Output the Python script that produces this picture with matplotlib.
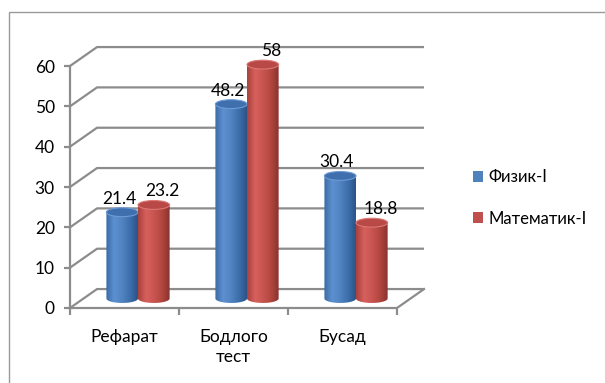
import numpy as np
import matplotlib.pyplot as plt
from matplotlib.patches import Ellipse, Rectangle, Patch, PathPatch
from matplotlib.path import Path
from matplotlib.colors import LinearSegmentedColormap

categories = ["Рефарат", "Бодлого\nтест", "Бусад"]
series_names = ["Физик-I", "Математик-I"]
physics = [21.4, 48.2, 30.4]
math = [23.2, 58, 18.8]
y_ticks = [0, 10, 20, 30, 40, 50, 60]

plt.rcParams["font.family"] = ["Lato", "Noto Sans", "DejaVu Sans"]
FS = 12.5

W, H = 605, 383
PX_X, PX_Y = 109.0, 4.033          # pixels per category / per unit
X0, Y0 = 70, 308                   # front origin in pixels
XMAX, YMAX = 3.4, 75

fig = plt.figure(figsize=(W / 100, H / 100), dpi=100)
ax = fig.add_axes([X0 / W, 1 - Y0 / H, XMAX * PX_X / W, YMAX * PX_Y / H])
ax.set_xlim(0, XMAX)
ax.set_ylim(0, YMAX)
ax.patch.set_alpha(0)

grid_c = "#8c8c8c"
dx, dy = 0.248, 4.7                # depth offset of back wall
n = len(categories)

# outer chart frame (cropped)
fig.patches.append(Rectangle((9 / W, -0.1), 1.2, 1 - 12 / H + 0.1, transform=fig.transFigure,
                             fill=False, edgecolor="#9a9a9a", linewidth=1.0))

# back wall gridlines + side wall diagonals
for v in y_ticks:
    ax.plot([0, dx, n + dx], [v, v + dy, v + dy], color=grid_c, lw=1.6, zorder=1,
            solid_capstyle="butt")
# floor right edge
ax.plot([n, n + dx], [0, dy], color=grid_c, lw=1.6, zorder=1)

# axes spines / ticks
for s in ["top", "right"]:
    ax.spines[s].set_visible(False)
for s in ["left", "bottom"]:
    ax.spines[s].set_color(grid_c)
    ax.spines[s].set_linewidth(1.6)
ax.spines["left"].set_bounds(0, 60)
ax.spines["bottom"].set_bounds(0, n)
ax.set_yticks(y_ticks)
ax.set_yticklabels([str(v) for v in y_ticks], fontsize=FS)
ax.tick_params(axis="y", length=4, width=1.6, color=grid_c, pad=7)
ax.set_xticks(range(n + 1))
ax.set_xticklabels([])
ax.set_xticks([i + 0.5 for i in range(n)], minor=True)
ax.set_xticklabels(categories, minor=True, fontsize=FS, linespacing=1.3)
ax.tick_params(axis="x", which="major", length=5, width=1.6, color=grid_c)
ax.tick_params(axis="x", which="minor", length=0, pad=15)

# cylinders
w = 0.29
eh = 2.2
yb = dy / 2
styles = [
    (["#3b6ba6", "#5d90d1", "#5284c2", "#3e6fad", "#2b5487"], "#3f70ad", "#6d9bd6"),
    (["#a9413e", "#d7605c", "#c85551", "#b3463f", "#8a3330"], "#b84946", "#dc7773"),
]
grad = np.linspace(0, 1, 64).reshape(1, -1)
t = np.linspace(np.pi, 2 * np.pi, 40)

for j, vals in enumerate([physics, math]):
    body_cols, top_col, rim_col = styles[j]
    cmap = LinearSegmentedColormap.from_list(f"c{j}", body_cols)
    for i, v in enumerate(vals):
        xc = i + 0.5 + (j - 0.5) * w + dx / 2
        top = v + yb
        xs = np.concatenate([[xc - w / 2], xc + w / 2 * np.cos(t), [xc + w / 2, xc - w / 2]])
        ys = np.concatenate([[top], yb + eh / 2 * np.sin(t), [top, top]])
        clip = PathPatch(Path(np.column_stack([xs, ys])), facecolor="none", edgecolor="none",
                         transform=ax.transData)
        ax.add_patch(clip)
        im = ax.imshow(grad, extent=[xc - w / 2, xc + w / 2, yb - eh, top], aspect="auto",
                       cmap=cmap, zorder=3 + j, interpolation="bilinear")
        im.set_clip_path(clip)
        ax.add_patch(Ellipse((xc, top), w, eh, facecolor=top_col, edgecolor=rim_col,
                             linewidth=0.8, zorder=3.5 + j))
        lx = -0.03 if j == 0 else 0.08
        ax.annotate(f"{v:g}", (xc + lx, top), xytext=(0, 4), textcoords="offset points",
                    ha="center", va="bottom", fontsize=FS, zorder=6)

ax.set_xlim(0, XMAX)
ax.set_ylim(0, YMAX)

handles = [Patch(facecolor="#4f81bd"), Patch(facecolor="#c0504d")]
fig.legend(handles, series_names, loc="center left", bbox_to_anchor=(458 / W, 1 - 198 / H),
           frameon=False, fontsize=12, handlelength=0.6, handleheight=0.6,
           handletextpad=0.3, labelspacing=1.5)

fig.savefig("out.png", dpi=100)
